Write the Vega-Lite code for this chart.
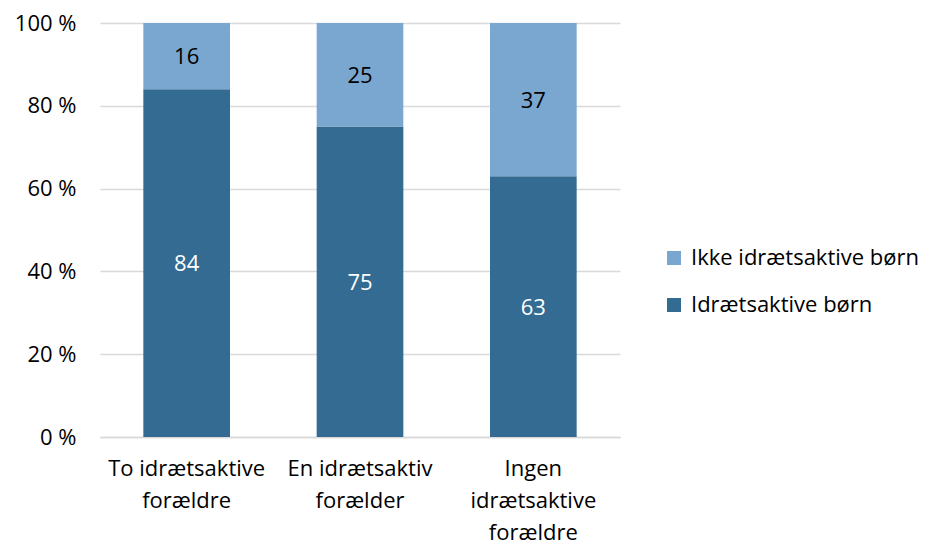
{
  "$schema": "https://vega.github.io/schema/vega-lite/v6.json",
  "width": 520,
  "height": 414,
  "autosize": "none",
  "padding": {"left": 100, "top": 23, "right": 306, "bottom": 110},
  "background": "white",
  "config": {
    "view": {"stroke": null},
    "font": "Open Sans",
    "axis": {"labelFont": "Open Sans", "labelFontSize": 22, "labelColor": "#000000"},
    "legend": {"labelFont": "Open Sans", "labelFontSize": 22, "labelColor": "#000000", "labelLimit": 300}
  },
  "data": {
    "values": [
      {"kategori": "To idrætsaktive forældre", "group": "Idrætsaktive børn", "value": 84},
      {"kategori": "To idrætsaktive forældre", "group": "Ikke idrætsaktive børn", "value": 16},
      {"kategori": "En idrætsaktiv forælder", "group": "Idrætsaktive børn", "value": 75},
      {"kategori": "En idrætsaktiv forælder", "group": "Ikke idrætsaktive børn", "value": 25},
      {"kategori": "Ingen idrætsaktive forældre", "group": "Idrætsaktive børn", "value": 63},
      {"kategori": "Ingen idrætsaktive forældre", "group": "Ikke idrætsaktive børn", "value": 37}
    ]
  },
  "encoding": {
    "x": {
      "field": "kategori",
      "type": "nominal",
      "sort": null,
      "title": null,
      "scale": {"paddingInner": 0.5, "paddingOuter": 0.25},
      "axis": {
        "labelAngle": 0,
        "ticks": false,
        "domain": true,
        "domainColor": "#d9d9d9",
        "domainWidth": 1.5,
        "labelPadding": 21,
        "labelLineHeight": 32,
        "labelBaseline": "top",
        "labelLimit": 300,
        "labelExpr": "datum.value == 'To idrætsaktive forældre' ? ['To idrætsaktive', 'forældre'] : datum.value == 'En idrætsaktiv forælder' ? ['En idrætsaktiv', 'forælder'] : ['Ingen', 'idrætsaktive', 'forældre']"
      }
    }
  },
  "layer": [
    {
      "mark": {"type": "bar"},
      "encoding": {
        "y": {
          "field": "value",
          "type": "quantitative",
          "stack": "zero",
          "title": null,
          "scale": {"domain": [0, 100]},
          "axis": {
            "values": [0, 20, 40, 60, 80, 100],
            "labelExpr": "datum.value + ' %'",
            "ticks": false,
            "domain": false,
            "gridColor": "#d9d9d9",
            "gridWidth": 1.5,
            "labelPadding": 24
          }
        },
        "color": {
          "field": "group",
          "type": "nominal",
          "scale": {
            "domain": ["Ikke idrætsaktive børn", "Idrætsaktive børn"],
            "range": ["#79a7d0", "#336b93"]
          },
          "legend": {
            "title": null,
            "orient": "none",
            "legendX": 563,
            "legendY": 224,
            "symbolType": "square",
            "symbolSize": 196,
            "symbolStrokeWidth": 0,
            "labelOffset": 6,
            "rowPadding": 25,
            "padding": 0
          }
        },
        "order": {"field": "group", "sort": "ascending"}
      }
    },
    {
      "mark": {"type": "text", "fontSize": 22, "font": "Open Sans", "baseline": "middle", "dy": 1},
      "encoding": {
        "y": {"field": "value", "type": "quantitative", "stack": "zero", "bandPosition": 0.5},
        "text": {"field": "value", "type": "quantitative"},
        "order": {"field": "group", "sort": "ascending"},
        "color": {
          "condition": {"test": "datum.group == 'Idrætsaktive børn'", "value": "#ffffff"},
          "value": "#000000"
        }
      }
    }
  ]
}
